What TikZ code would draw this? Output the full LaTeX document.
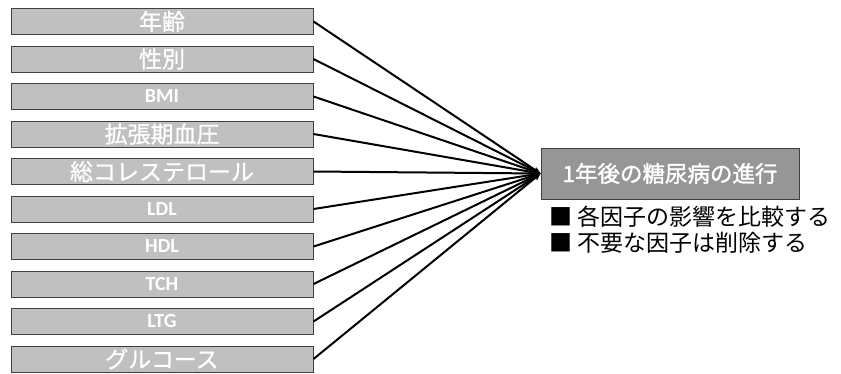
\documentclass[tikz,border=0pt]{standalone}
\usepackage{fontspec}
\newfontfamily\jp{Noto Sans CJK JP}[FakeBold=0.6]
\newfontfamily\jpn{Noto Sans CJK JP}
\newfontfamily\jpb{Noto Sans CJK JP}[FakeBold=1.6]
\newfontfamily\latb{Carlito}
\usetikzlibrary{arrows.meta}
\definecolor{lightbox}{RGB}{192,192,192}
\definecolor{darkbox}{RGB}{150,150,150}
\definecolor{boxline}{RGB}{64,64,64}
\begin{document}
\begin{tikzpicture}[x=1pt,y=-1pt,
  factor/.style={draw=boxline, fill=lightbox, line width=1pt, minimum width=302pt,
    minimum height=26pt, inner sep=0pt, text=white, font=\jp\fontsize{23}{23}\selectfont},
  latin/.style={font=\latb\bfseries\fontsize{20}{20}\selectfont},
  target/.style={draw=boxline, fill=darkbox, line width=1pt, minimum width=258pt,
    minimum height=51pt, inner sep=0pt, text=white, font=\jpb\fontsize{22.5}{22.5}\selectfont},
  note/.style={anchor=west, inner sep=0pt, font=\jpn\fontsize{23}{23}\selectfont},
  link/.style={line width=2pt, -{Stealth[length=7pt,width=6pt]}}]
\useasboundingbox (0,0) rectangle (841,373);
\node[factor] (f1) at (162,21.5) {年齢};
\node[factor] (f2) at (162,59) {性別};
\node[factor,latin] (f3) at (162,96.5) {BMI};
\node[factor] (f4) at (162,134) {拡張期血圧};
\node[factor] (f5) at (162,171.5) {総コレステロール};
\node[factor,latin] (f6) at (162,209) {LDL};
\node[factor,latin] (f7) at (162,246.5) {HDL};
\node[factor,latin] (f8) at (162,284) {TCH};
\node[factor,latin] (f9) at (162,321.5) {LTG};
\node[factor] (f10) at (162,359) {グルコース};
\node[target] (t) at (670,173.5) {1年後の糖尿病の進行};
\foreach \i in {1,...,10} {\draw[link] (f\i.east) -- (t.west);}
\node[note] (n1) at (549,217) {■ 各因子の影響を比較する};
\node[note] (n2) at (549,243) {■ 不要な因子は削除する};
\end{tikzpicture}
\end{document}
